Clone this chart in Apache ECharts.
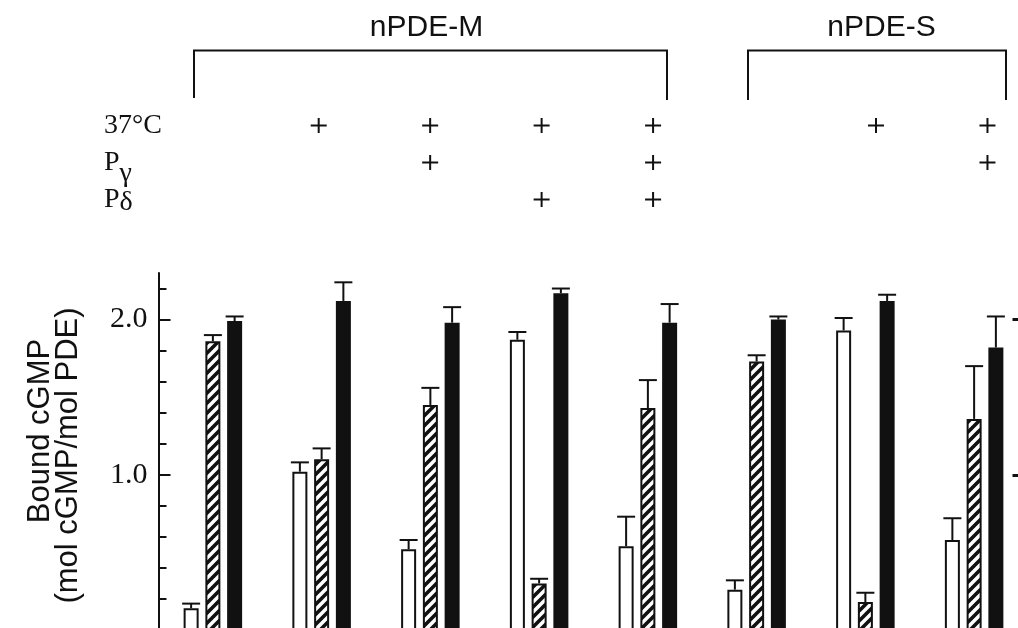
<!DOCTYPE html>
<html>
<head>
<meta charset="utf-8">
<script src="https://cdn.jsdelivr.net/npm/echarts@6/dist/echarts.min.js"></script>
<style>
  html, body { margin: 0; padding: 0; background: #fff; }
  #chart { width: 1018px; height: 628px; }
</style>
</head>
<body>
<div id="chart"></div>
<script>
// Sample groups: five nPDE-M preparations followed by three nPDE-S preparations
const groups = ['M1', 'M2', 'M3', 'M4', 'M5', 'S1', 'S2', 'S3'];

// Bound cGMP (mol cGMP / mol PDE) and error, one array per bar type
const openValues    = [0.14, 1.02, 0.52, 1.87, 0.54, 0.26, 1.93, 0.58];
const openErrors    = [0.03, 0.06, 0.06, 0.05, 0.19, 0.06, 0.08, 0.14];
const hatchedValues = [1.86, 1.10, 1.45, 0.30, 1.43, 1.73, 0.18, 1.36];
const hatchedErrors = [0.04, 0.07, 0.11, 0.03, 0.18, 0.04, 0.06, 0.34];
const solidValues   = [1.99, 2.12, 1.98, 2.17, 1.98, 2.00, 2.12, 1.82];
const solidErrors   = [0.03, 0.12, 0.10, 0.03, 0.12, 0.02, 0.04, 0.20];

// Treatment table shown above the bars (1 = "+")
const conditionLabels = ['37°C', 'Pγ', 'Pδ'];
const at37C   = [0, 1, 1, 1, 1, 0, 1, 1];
const withPg  = [0, 0, 1, 0, 1, 0, 0, 1];
const withPd  = [0, 0, 0, 1, 1, 0, 0, 0];

// Axis ticks
const yMax = 2.3;
const majorTicks = [1.0, 2.0];
const minorTicks = [0.2, 0.4, 0.6, 0.8, 1.2, 1.4, 1.6, 1.8, 2.2];

// Group headings
const headingM = 'nPDE-M';
const headingS = 'nPDE-S';
const yTitle1 = 'Bound cGMP';
const yTitle2 = '(mol cGMP/mol PDE)';

const INK = '#111';
const BAR_W = 15;
const BAR_GAP = 0.45;
const BAR_STEP = BAR_W * (1 + BAR_GAP);

// Diagonal hatch fill
function hatchPattern() {
  const c = document.createElement('canvas');
  c.width = 10; c.height = 10;
  const g = c.getContext('2d');
  g.fillStyle = '#fff';
  g.fillRect(0, 0, 10, 10);
  g.strokeStyle = INK;
  g.lineWidth = 3.6;
  g.lineCap = 'square';
  [[-5, 5, 5, -5], [0, 10, 10, 0], [5, 15, 15, 5]].forEach(function (s) {
    g.beginPath(); g.moveTo(s[0], s[1]); g.lineTo(s[2], s[3]); g.stroke();
  });
  return c;
}

const errorData = [];
[[openValues, openErrors], [hatchedValues, hatchedErrors], [solidValues, solidErrors]]
  .forEach(function (pair, s) {
    pair[0].forEach(function (v, i) { errorData.push([i, v, pair[1][i], s]); });
  });

const plusData = [];
[at37C, withPg, withPd].forEach(function (row, r) {
  row.forEach(function (f, i) { if (f) plusData.push([i, r]); });
});

const chart = echarts.init(document.getElementById('chart'));

chart.setOption({
  animation: false,
  backgroundColor: '#fff',
  grid: [
    { left: 158.5, top: 273, width: 870, height: 357, outerBoundsMode: 'none', containLabel: false },
    { left: 151.5, top: 107, width: 891.7, height: 111, outerBoundsMode: 'none', containLabel: false }
  ],
  xAxis: [
    { type: 'category', gridIndex: 0, data: groups,
      axisLine: { show: false }, axisTick: { show: false }, axisLabel: { show: false } },
    { type: 'category', gridIndex: 1, data: groups,
      axisLine: { show: false }, axisTick: { show: false }, axisLabel: { show: false } }
  ],
  yAxis: [
    { type: 'value', gridIndex: 0, position: 'left', min: 0, max: yMax,
      axisLine: { show: true, lineStyle: { color: INK, width: 2 } },
      axisTick: { show: true, inside: true, length: 12, customValues: majorTicks,
                  lineStyle: { color: INK, width: 2 } },
      axisLabel: { show: true, customValues: majorTicks, margin: 11,
                   formatter: function (v) { return v.toFixed(1); },
                   fontFamily: 'Liberation Serif', fontSize: 30, color: INK },
      splitLine: { show: false } },
    { type: 'value', gridIndex: 0, position: 'left', min: 0, max: yMax,
      axisLine: { show: false },
      axisTick: { show: true, inside: true, length: 8, customValues: minorTicks,
                  lineStyle: { color: INK, width: 2 } },
      axisLabel: { show: false }, splitLine: { show: false } },
    { type: 'value', gridIndex: 0, position: 'right', min: 0, max: yMax,
      axisLine: { show: false },
      axisTick: { show: true, inside: true, length: 16, customValues: majorTicks,
                  lineStyle: { color: INK, width: 3 } },
      axisLabel: { show: false }, splitLine: { show: false } },
    { type: 'category', gridIndex: 1, data: conditionLabels, inverse: true,
      axisLine: { show: false }, axisTick: { show: false }, splitLine: { show: false },
      axisLabel: {
        show: true, interval: 0, hideOverlap: false, align: 'left', margin: 47.5,
        formatter: function (v) {
          if (v === 'Pγ') return '{b|P}{sub|γ}';
          if (v === 'Pδ') return '{b|P}{d|δ}';
          return '{b|' + v + '}';
        },
        rich: {
          b: { fontFamily: 'Liberation Serif', fontSize: 28, color: INK },
          sub: { fontFamily: 'Liberation Serif', fontSize: 28, color: INK, padding: [22, 0, 0, 0] },
          d: { fontFamily: 'Liberation Serif', fontSize: 28, color: INK, padding: [6, 0, 0, 0] }
        }
      } }
  ],
  series: [
    { name: 'open', type: 'bar', xAxisIndex: 0, yAxisIndex: 0, data: openValues,
      barWidth: BAR_W, barGap: (BAR_GAP * 100) + '%',
      itemStyle: { color: '#fff', borderColor: INK, borderWidth: 2 } },
    { name: 'hatched', type: 'bar', xAxisIndex: 0, yAxisIndex: 0, data: hatchedValues,
      barWidth: BAR_W, barGap: (BAR_GAP * 100) + '%',
      itemStyle: { color: { image: hatchPattern(), repeat: 'repeat' }, borderColor: INK, borderWidth: 2 } },
    { name: 'solid', type: 'bar', xAxisIndex: 0, yAxisIndex: 0, data: solidValues,
      barWidth: BAR_W, barGap: (BAR_GAP * 100) + '%',
      itemStyle: { color: INK, borderColor: INK, borderWidth: 2 } },
    { name: 'error', type: 'custom', xAxisIndex: 0, yAxisIndex: 0, z: 5, data: errorData,
      renderItem: function (params, api) {
        const i = api.value(0), v = api.value(1), e = api.value(2), s = api.value(3);
        const base = api.coord([i, v]);
        const top = api.coord([i, v + e]);
        const x = base[0] + (s - 1) * BAR_STEP;
        const style = { stroke: INK, lineWidth: 2 };
        return { type: 'group', children: [
          { type: 'line', shape: { x1: x, y1: base[1], x2: x, y2: top[1] }, style: style },
          { type: 'line', shape: { x1: x - 9, y1: top[1], x2: x + 9, y2: top[1] }, style: style }
        ] };
      } },
    { name: 'plus', type: 'custom', xAxisIndex: 1, yAxisIndex: 3, data: plusData,
      renderItem: function (params, api) {
        const p = api.coord([api.value(0), api.value(1)]);
        return { type: 'group', children: [
          { type: 'rect', shape: { x: p[0] - 8, y: p[1] - 1, width: 16, height: 2 }, style: { fill: INK } },
          { type: 'rect', shape: { x: p[0] - 1, y: p[1] - 7.5, width: 2, height: 15 }, style: { fill: INK } }
        ] };
      } }
  ],
  graphic: [
    { type: 'polyline', shape: { points: [[194, 98], [194, 50.5], [667, 50.5], [667, 100]] },
      style: { stroke: INK, lineWidth: 2, fill: null } },
    { type: 'polyline', shape: { points: [[748, 100], [748, 50.5], [1006, 50.5], [1006, 100]] },
      style: { stroke: INK, lineWidth: 2, fill: null } },
    { type: 'text', x: 426.5, y: 28,
      style: { text: headingM, font: '30px "Liberation Sans"', fill: INK, textAlign: 'center', textVerticalAlign: 'middle' } },
    { type: 'text', x: 881.5, y: 28,
      style: { text: headingS, font: '30px "Liberation Sans"', fill: INK, textAlign: 'center', textVerticalAlign: 'middle' } },
    { type: 'text', x: 40, y: 431, rotation: Math.PI / 2,
      style: { text: yTitle1, font: '31px "Liberation Sans"', fill: INK, textAlign: 'center', textVerticalAlign: 'middle' } },
    { type: 'text', x: 68, y: 455.5, rotation: Math.PI / 2,
      style: { text: yTitle2, font: '31px "Liberation Sans"', fill: INK, textAlign: 'center', textVerticalAlign: 'middle' } }
  ]
});
</script>
</body>
</html>
